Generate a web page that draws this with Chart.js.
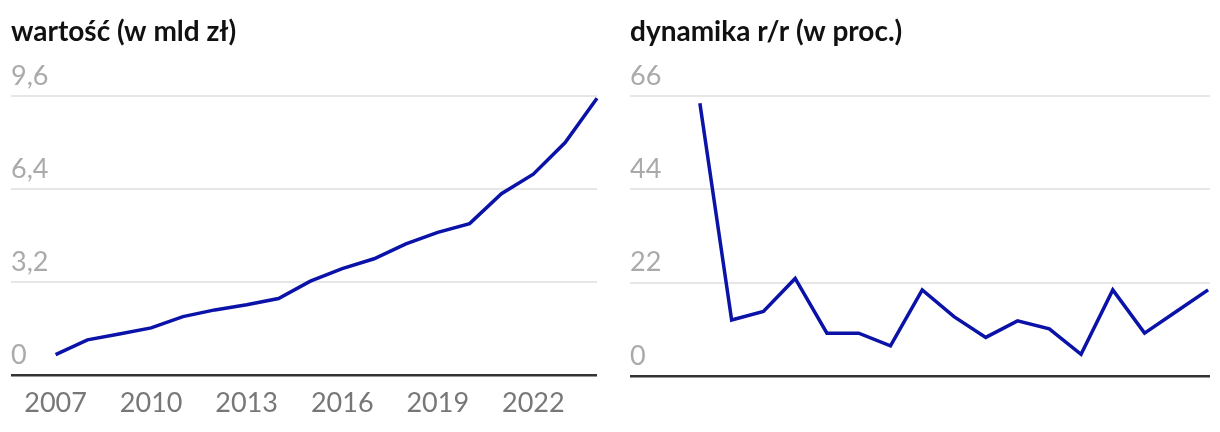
<!DOCTYPE html>
<html>
<head>
<meta charset="utf-8">
<script src="https://cdn.jsdelivr.net/npm/chart.js@4/dist/chart.umd.min.js"></script>
<style>
  html, body { margin: 0; padding: 0; background: #fff; }
  .panel { position: absolute; top: 0; width: 610px; height: 432px; }
</style>
</head>
<body>
<div class="panel" style="left:0"><canvas id="wartosc"></canvas></div>
<div class="panel" style="left:610px"><canvas id="dynamika"></canvas></div>
<script>
// lata
const lataWartosc = [2007, 2008, 2009, 2010, 2011, 2012, 2013, 2014, 2015, 2016, 2017, 2018, 2019, 2020, 2021, 2022, 2023, 2024];
const lataDynamika = [2008, 2009, 2010, 2011, 2012, 2013, 2014, 2015, 2016, 2017, 2018, 2019, 2020, 2021, 2022, 2023, 2024];

// wartość w mld zł
const wartosc = [0.70, 1.21, 1.41, 1.62, 2.01, 2.24, 2.42, 2.63, 3.23, 3.66, 4.00, 4.51, 4.91, 5.21, 6.24, 6.91, 8.00, 9.52];

// dynamika r/r w proc.
const dynamika = [64.3, 13.2, 15.2, 23.0, 10.1, 10.1, 7.1, 20.3, 14.0, 9.1, 13.0, 11.1, 5.1, 20.3, 10.1, 15.2, 20.3];

// etykiety osi
const tickiWartosc = [0, 3.2, 6.4, 9.6];
const tickiDynamika = [0, 22, 44, 66];
const tickiLat = [2007, 2010, 2013, 2016, 2019, 2022];

const kolorLinii = '#0a12a8';

function opcje(tytul, tickiY, xMin, xMax, pokazLata, padding) {
    return {
        responsive: true,
        maintainAspectRatio: false,
        animation: false,
        layout: { padding: padding },
        plugins: {
            legend: { display: false },
            tooltip: { enabled: false },
            title: {
                display: true,
                text: tytul,
                align: 'start',
                color: '#111',
                font: { family: 'Lato', size: 28, weight: 'bold', lineHeight: 1.2 },
                padding: { top: 15, bottom: 47.4 }
            }
        },
        scales: {
            x: {
                type: 'linear',
                min: xMin,
                max: xMax,
                display: pokazLata,
                grid: { display: false, drawTicks: false },
                border: { display: false },
                afterBuildTicks: axis => { axis.ticks = tickiLat.map(v => ({ value: v })); },
                ticks: {
                    autoSkip: false,
                    maxRotation: 0,
                    padding: 15,
                    color: '#777',
                    font: { family: 'Lato', size: 27, lineHeight: 1.0 },
                    callback: v => String(v)
                }
            },
            y: {
                min: tickiY[0],
                max: tickiY[tickiY.length - 1],
                afterBuildTicks: axis => { axis.ticks = tickiY.map(v => ({ value: v })); },
                border: { display: false },
                grid: {
                    drawTicks: false,
                    color: c => c.tick && c.tick.value === 0 ? '#333' : '#e6e6e6',
                    lineWidth: c => c.tick && c.tick.value === 0 ? 2.5 : 2
                },
                ticks: {
                    mirror: true,
                    padding: 0,
                    labelOffset: -20,
                    color: '#aaa',
                    font: { family: 'Lato', size: 27 },
                    callback: v => String(v).replace('.', ',')
                }
            }
        }
    };
}

new Chart(document.getElementById('wartosc'), {
    type: 'line',
    data: {
        datasets: [{
            data: lataWartosc.map((r, i) => ({ x: r, y: wartosc[i] })),
            borderColor: kolorLinii,
            borderWidth: 3.5,
            pointRadius: 0,
            tension: 0,
            clip: false
        }]
    },
    options: opcje('wartość (w mld zł)', tickiWartosc, 2005.6, 2024, true, { left: 11, right: 13, top: 0, bottom: 0 })
});

new Chart(document.getElementById('dynamika'), {
    type: 'line',
    data: {
        datasets: [{
            data: lataDynamika.map((r, i) => ({ x: r, y: dynamika[i] })),
            borderColor: kolorLinii,
            borderWidth: 3.5,
            pointRadius: 0,
            tension: 0,
            clip: false
        }]
    },
    options: opcje('dynamika r/r (w proc.)', tickiDynamika, 2005.8, 2024.06, false, { left: 20, right: 10, top: 0, bottom: 56 })
});
</script>
</body>
</html>
